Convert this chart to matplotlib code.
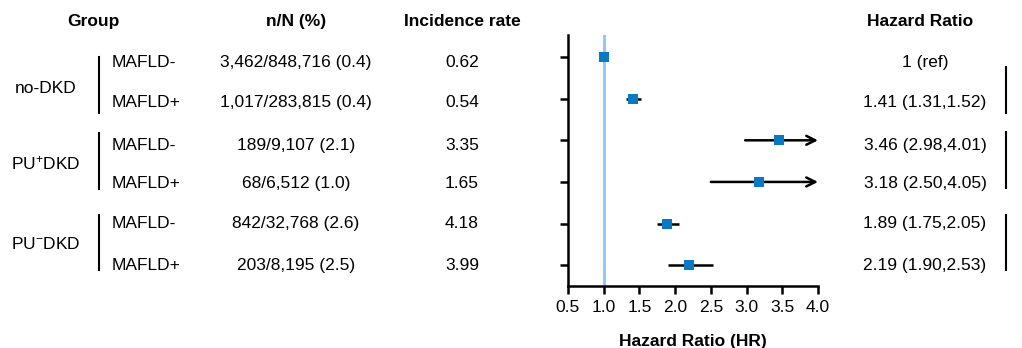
"""
Forest plot: hazard ratios by DKD group and MAFLD status.
"""

import matplotlib.pyplot as plt
import matplotlib.transforms as mtransforms
import numpy as np

plt.rcParams['font.family'] = ['Liberation Sans', 'DejaVu Sans']
plt.rcParams['mathtext.fontset'] = 'custom'
plt.rcParams['mathtext.rm'] = 'Liberation Sans'
plt.rcParams['mathtext.it'] = 'Liberation Sans:italic'
plt.rcParams['mathtext.bf'] = 'Liberation Sans:bold'

# --- data ---
groups = ['no-DKD', 'PU$^{+}$DKD', 'PU$^{-}$DKD']
subgroups = ['MAFLD-', 'MAFLD+', 'MAFLD-', 'MAFLD+', 'MAFLD-', 'MAFLD+']
n_events = ['3,462/848,716 (0.4)', '1,017/283,815 (0.4)', '189/9,107 (2.1)',
            '68/6,512 (1.0)', '842/32,768 (2.6)', '203/8,195 (2.5)']
incidence = [0.62, 0.54, 3.35, 1.65, 4.18, 3.99]
hr = [1.00, 1.41, 3.46, 3.18, 1.89, 2.19]
hr_lo = [np.nan, 1.31, 2.98, 2.50, 1.75, 1.90]
hr_hi = [np.nan, 1.52, 4.01, 4.05, 2.05, 2.53]
x_ticks = [0.5, 1.0, 1.5, 2.0, 2.5, 3.0, 3.5, 4.0]

W, H = 1022, 348
fig = plt.figure(figsize=(W / 100, H / 100), dpi=100)
ax = fig.add_axes([568 / W, 1 - 286 / H, 250 / W, 251 / H])

rows = np.arange(len(hr))
blue = '#0a78c2'
xmax = 4.0

# reference line
ax.axvline(1.0, color='#99c6f5', lw=2.2, zorder=1)

# CIs
for y, h, lo, hi in zip(rows, hr, hr_lo, hr_hi):
    if np.isnan(lo):
        continue
    if hi > xmax:
        ax.annotate('', xy=(xmax, y), xytext=(lo, y),
                    arrowprops=dict(arrowstyle='->', lw=1.8, color='black',
                                    mutation_scale=16, shrinkA=0, shrinkB=0),
                    zorder=2, annotation_clip=False)
    else:
        ax.plot([lo, hi], [y, y], color='black', lw=1.8, zorder=2,
                solid_capstyle='butt')

ax.scatter(hr, rows, marker='s', s=60, color=blue, zorder=3, linewidths=0)

ax.set_xlim(0.5, 4.0)
ax.set_ylim(5.5, -0.53)
ax.set_xticks(x_ticks)
ax.set_xticklabels([f'{t:.1f}' for t in x_ticks], fontsize=12.5)
ax.set_yticks(rows)
ax.set_yticklabels([])
ax.tick_params(axis='both', length=6, width=1.8, direction='out', pad=4)
for s in ['top', 'right']:
    ax.spines[s].set_visible(False)
for s in ['left', 'bottom']:
    ax.spines[s].set_linewidth(1.8)
ax.set_xlabel('Hazard Ratio (HR)', fontsize=12.5, fontweight='bold', labelpad=14)

# --- table text ---
tr = mtransforms.blended_transform_factory(fig.transFigure, ax.transData)
fs = 12.5
head_y = -0.85
ty = rows + np.array([0.12, 0.1, 0.12, 0.03, 0.0, 0.0])

ax.text(93 / W, head_y, 'Group', transform=tr, ha='center', va='center',
        fontsize=fs, fontweight='bold', clip_on=False)
ax.text(296 / W, head_y, 'n/N (%)', transform=tr, ha='center', va='center',
        fontsize=fs, fontweight='bold', clip_on=False)
ax.text(462 / W, head_y, 'Incidence rate', transform=tr, ha='center', va='center',
        fontsize=fs, fontweight='bold', clip_on=False)
ax.text(920 / W, head_y, 'Hazard Ratio', transform=tr, ha='center', va='center',
        fontsize=fs, fontweight='bold', clip_on=False)

for i, y in enumerate(ty):
    ax.text(112 / W, y, subgroups[i], transform=tr, ha='left', va='center',
            fontsize=fs, clip_on=False)
    ax.text(296 / W, y, n_events[i], transform=tr, ha='center', va='center',
            fontsize=fs, clip_on=False)
    ax.text(462 / W, y, f'{incidence[i]:.2f}', transform=tr, ha='center',
            va='center', fontsize=fs, clip_on=False)
    if np.isnan(hr_lo[i]):
        lab = '1 (ref)'
    else:
        lab = f'{hr[i]:.2f} ({hr_lo[i]:.2f},{hr_hi[i]:.2f})'
    ax.text(925 / W, y, lab, transform=tr, ha='center', va='center',
            fontsize=fs, clip_on=False)

group_y = [0.75, 2.55, 4.5]
left_bars = [(0.0, 1.35), (1.83, 3.17), (3.8, 5.12)]
right_bars = [(0.24, 1.35), (1.8, 3.15), (3.8, 5.12)]
for g, name in enumerate(groups):
    ax.text(46 / W, group_y[g], name, transform=tr,
            ha='center', va='center', fontsize=fs, clip_on=False)
    ax.plot([99 / W, 99 / W], left_bars[g], transform=tr, color='black',
            lw=1.5, clip_on=False)
    ax.plot([1006 / W, 1006 / W], right_bars[g], transform=tr, color='black',
            lw=1.5, clip_on=False)

fig.savefig('out.png', dpi=100)
plt.close(fig)
